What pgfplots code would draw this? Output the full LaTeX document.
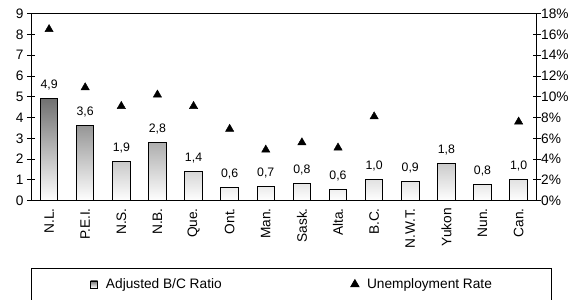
\documentclass[border=0pt]{standalone}
\usepackage{fontspec}
\setmainfont{Liberation Sans}
\usepackage{pgfplots}
\pgfplotsset{compat=1.18}
\usepackage{pgfplotstable}
\newcommand\fs{\fontsize{13.7}{16}\selectfont}
\newcommand\fl{\fontsize{12.3}{14}\selectfont}
\pgfplotstableread{
x y lab
0 4.93 4,9
1 3.6 3,6
2 1.88 1,9
3 2.78 2,8
4 1.4 1,4
5 0.63 0,6
6 0.7 0,7
7 0.85 0,8
8 0.56 0,6
9 1.0 1,0
10 0.91 0,9
11 1.81 1,8
12 0.79 0,8
13 1.0 1,0
}\bc
\pgfplotstableread{
x u
0 16.5
1 10.9
2 9.1
3 10.2
4 9.1
5 6.9
6 4.9
7 5.6
8 5.1
9 8.1
13 7.6
}\ur
\begin{document}
\begin{tikzpicture}
\useasboundingbox (-31pt,-99.3pt) rectangle (548pt,200.7pt);
\begin{axis}[
  scale only axis, width=505.7pt, height=187pt,
  xmin=-0.5, xmax=13.5, ymin=0, ymax=9,
  ytick={0,1,...,9}, ytick pos=left,
  xtick=data,
  xticklabels={N.L.,P.E.I.,N.S.,N.B.,Que.,Ont.,Man.,Sask.,Alta.,B.C.,N.W.T.,Yukon,Nun.,Can.},
  xtick style={draw=none},
  x tick label style={rotate=90, anchor=east},
  tick label style={font=\fs},
  /pgf/number format/assume math mode=true,
  tick align=center, major tick length=8pt,
  axis line style={line width=0.9pt},
  every tick/.style={black, line width=0.9pt},
  legend columns=2,
  legend style={at={(rel axis cs:0,-0.3615)}, anchor=north west, draw=black, line width=0.8pt,
    font=\fs, inner xsep=59pt, inner ysep=10pt,
    nodes={inner sep=0pt, minimum width=0pt, minimum height=0pt},
    /tikz/every odd column/.append style={column sep=8pt},
    /tikz/every even column/.append style={column sep=129pt}},
]
\addplot[ybar, bar width=17.5pt, draw=black, line width=1pt,
  top color=black!56, bottom color=white,
  nodes near coords, point meta=explicit symbolic,
  nodes near coords style={font=\fl, anchor=base, yshift=10pt},
  legend image code/.code={\draw[draw=black, line width=0.6pt, top color=black!55, bottom color=white] (0pt,-3.5pt) rectangle (7pt,3.5pt);}
] table[x=x, y=y, meta=lab] {\bc};
\addlegendentry{Adjusted B/C Ratio}
\addlegendimage{legend image code/.code={\path[draw=black, fill=black] plot[only marks, mark=triangle*, mark size=4.8pt] coordinates {(4pt,0pt)};}}
\addlegendentry{Unemployment Rate}
\end{axis}
\begin{axis}[
  scale only axis, width=505.7pt, height=187pt,
  xmin=-0.5, xmax=13.5, ymin=0, ymax=18,
  axis x line=none, axis y line*=right,
  ytick={0,2,...,18},
  yticklabel={\pgfmathprintnumber{\tick}\%},
  tick label style={font=\fs},
  yticklabel style={xshift=-3pt},
  /pgf/number format/assume math mode=true,
  tick align=center, major tick length=8pt,
  axis line style={line width=0.9pt},
  every tick/.style={black, line width=0.9pt},
]
\addplot[only marks, mark=triangle*, mark size=4.8pt, black] table[x=x, y=u] {\ur};
\end{axis}
\end{tikzpicture}
\end{document}
